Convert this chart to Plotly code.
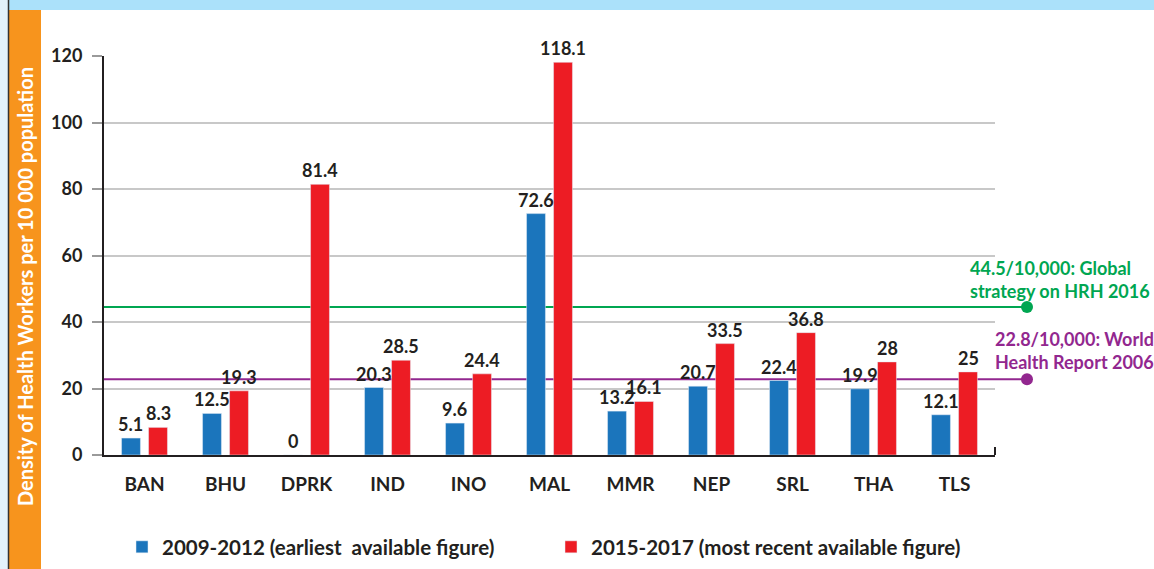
import plotly.graph_objects as go

categories = ["BAN", "BHU", "DPRK", "IND", "INO", "MAL", "MMR", "NEP", "SRL", "THA", "TLS"]
early = [5.1, 12.5, 0, 20.3, 9.6, 72.6, 13.2, 20.7, 22.4, 19.9, 12.1]
recent = [8.3, 19.3, 81.4, 28.5, 24.4, 118.1, 16.1, 33.5, 36.8, 28, 25]
early_name = "2009-2012 (earliest\u00a0 available figure)"
recent_name = "2015-2017 (most recent available figure)"
global_target = 44.5
whr_target = 22.8
y_ticks = [0, 20, 40, 60, 80, 100, 120]

W, H = 1154, 569
L, R, T, B = 104, 159, 56, 114
PW = W - L - R
PH = H - T - B
BARGAP = 0.333

def px_x(p):
    return (p - L) / PW

def px_y(p):
    return (H - B - p) / PH

FONT = "Lato"
DARK = "#231f20"
BLUE = "#1b75bc"
RED = "#ed1c24"
GREEN = "#00a651"
PURPLE = "#92278f"

fig = go.Figure()
fig.add_trace(go.Bar(x=categories, y=early, name=early_name, marker_color=BLUE))
fig.add_trace(go.Bar(x=categories, y=recent, name=recent_name, marker_color=RED))

shapes = []
# left light strip, dark line, orange band, top banner
shapes.append(dict(type="rect", xref="paper", yref="paper", x0=px_x(0), x1=px_x(8),
                   y0=px_y(H), y1=px_y(0), fillcolor="#e3f2fb", line_width=0, layer="below"))
shapes.append(dict(type="rect", xref="paper", yref="paper", x0=px_x(8), x1=px_x(1154),
                   y0=px_y(10), y1=px_y(0), fillcolor="#abe1fa", line_width=0, layer="below"))
shapes.append(dict(type="rect", xref="paper", yref="paper", x0=px_x(9), x1=px_x(41),
                   y0=px_y(H), y1=px_y(10), fillcolor="#f7941d", line_width=0, layer="below"))
shapes.append(dict(type="line", xref="paper", yref="paper", x0=px_x(8.5), x1=px_x(8.5),
                   y0=px_y(H), y1=px_y(0), line=dict(color="#333333", width=1.5)))
# target lines (behind bars, above grid)
end_x = px_x(1027)
for val, col in [(global_target, GREEN), (whr_target, PURPLE)]:
    shapes.append(dict(type="line", xref="paper", yref="y", x0=0, x1=end_x, y0=val, y1=val,
                       line=dict(color=col, width=2), layer="between"))
    shapes.append(dict(type="circle", xref="paper", yref="y", xsizemode="pixel", ysizemode="pixel",
                       xanchor=end_x, yanchor=val, x0=-6, x1=6, y0=-6, y1=6,
                       fillcolor=col, line_width=0))
# end tick on x axis
shapes.append(dict(type="line", xref="paper", yref="paper", x0=1, x1=1, y0=0, y1=px_y(447),
                   line=dict(color=DARK, width=2)))

annotations = [
    dict(text="Density of Health Workers per 10 000 population", xref="paper", yref="paper",
         x=px_x(25), y=px_y(287), xanchor="center", yanchor="middle", textangle=-90, showarrow=False,
         font=dict(family=FONT, size=20, color="white", weight="bold")),
    dict(text="44.5/10,000: Global<br>strategy on HRH 2016", xref="paper", yref="paper",
         x=px_x(968), y=px_y(279), xanchor="left", yanchor="middle", align="left", showarrow=False,
         font=dict(family=FONT, size=18, color=GREEN, weight="bold")),
    dict(text="22.8/10,000: World<br>Health Report 2006", xref="paper", yref="paper",
         x=px_x(993), y=px_y(350), xanchor="left", yanchor="middle", align="left", showarrow=False,
         font=dict(family=FONT, size=18, color=PURPLE, weight="bold")),
]

# value labels above each bar (bar slot offset within the category group)
slot = PW / len(categories) * (1 - BARGAP) / 2
for vals, shift in [(early, -slot / 2), (recent, slot / 2)]:
    for cat, v in zip(categories, vals):
        annotations.append(dict(
            text=f"{v:g}", xref="x", yref="y", x=cat, y=v, xshift=shift, yshift=1,
            xanchor="center", yanchor="bottom", showarrow=False,
            font=dict(family=FONT, size=18, color=DARK, weight="bold"),
        ))

fig.update_layout(
    width=W, height=H,
    margin=dict(l=L, r=R, t=T, b=B, pad=0),
    paper_bgcolor="white", plot_bgcolor="white",
    barmode="group", bargap=BARGAP, bargroupgap=0.3,
    font=dict(family=FONT, color=DARK),
    shapes=shapes, annotations=annotations,
    showlegend=True,
    legend=dict(orientation="h", xref="container", yref="container",
                x=122 / W, y=(H - 547) / H, xanchor="left", yanchor="middle",
                entrywidth=384, entrywidthmode="pixels",
                font=dict(family=FONT, size=20.5, color=DARK, weight="bold"),
                bgcolor="rgba(0,0,0,0)"),
    xaxis=dict(showline=True, linecolor=DARK, linewidth=2, ticks="", showgrid=False,
               tickfont=dict(family=FONT, size=19, color=DARK, weight="bold"),
               ticklabelstandoff=11, automargin=False),
    yaxis=dict(range=[0, 120], tickvals=y_ticks, showline=True, linecolor=DARK, linewidth=2,
               showgrid=True, gridcolor="#c8c8c8", gridwidth=1.5, zeroline=False,
               ticks="outside", ticklen=10, tickcolor="#9a9a9a", tickwidth=1.5,
               tickfont=dict(family=FONT, size=18, color=DARK, weight="bold"),
               ticklabelstandoff=6, automargin=False),
)

fig.write_html("out.html", config={"displayModeBar": False},
               post_script="document.body.style.margin='0';")
